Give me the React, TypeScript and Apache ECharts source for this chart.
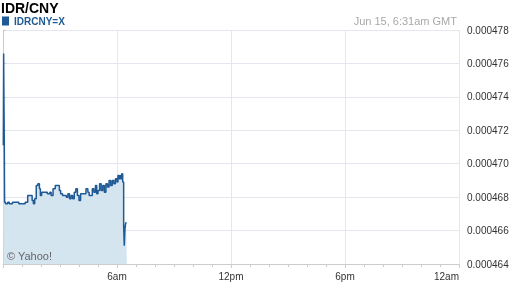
import React, { useEffect, useRef } from "react";
import * as echarts from "echarts";

// minutes after midnight (GMT), Jun 15
const minutes = [
  1, 2, 3, 4, 5, 8, 15, 20, 30, 40, 50, 55, 62, 70, 78, 88, 92, 96, 100, 105,
  110, 115, 118, 122, 130, 140, 148, 152, 158, 165, 172, 178, 182, 188, 195,
  200, 205, 210, 215, 220, 225, 230, 235, 240, 245, 250, 258, 262, 268, 272,
  278, 282, 287, 292, 296, 300, 305, 310, 315, 320, 325, 330, 335, 340, 345,
  350, 355, 360, 363, 366, 369, 372, 375, 378, 381, 383, 385, 387, 389, 391,
];
const rates = [
  0.0004711, 0.0004766, 0.0004738, 0.0004714, 0.0004677, 0.0004676, 0.0004677,
  0.0004676, 0.0004677, 0.0004677, 0.0004676, 0.0004676, 0.0004676, 0.0004677,
  0.0004681, 0.0004681, 0.0004678, 0.0004676, 0.0004679, 0.0004687, 0.0004688,
  0.0004685, 0.0004681, 0.0004683, 0.0004683, 0.0004682, 0.0004683, 0.0004681,
  0.0004685, 0.0004687, 0.0004687, 0.0004684, 0.0004682, 0.0004681, 0.0004681,
  0.000468, 0.0004682, 0.0004679, 0.0004681, 0.0004679, 0.0004683, 0.0004685,
  0.0004681, 0.0004678, 0.0004682, 0.0004682, 0.0004682, 0.0004685, 0.0004683,
  0.0004681, 0.0004681, 0.0004685, 0.0004683, 0.0004687, 0.0004682, 0.0004684,
  0.0004688, 0.0004684, 0.0004687, 0.0004683, 0.0004688, 0.0004686, 0.000469,
  0.0004687, 0.000469, 0.0004688, 0.0004691, 0.0004689, 0.0004693, 0.0004691,
  0.0004693, 0.0004691, 0.0004694, 0.0004689, 0.0004663, 0.0004651, 0.0004661,
  0.0004664, 0.0004665, 0.0004665,
];
const xTickLabels: Record<number, string> = {
  360: "6am",
  720: "12pm",
  1080: "6pm",
  1440: "12am",
};
const titleText = "IDR/CNY";
const seriesName = "IDRCNY=X";
const stampText = "Jun 15, 6:31am GMT";
const creditText = "© Yahoo!";

export default function App() {
  const ref = useRef<HTMLDivElement>(null);
  useEffect(() => {
    if (!ref.current) return;
    const chart = echarts.init(ref.current, undefined, { renderer: "svg" });
    const font = "Arial, 'Liberation Sans', sans-serif";
    chart.setOption({
      animation: false,
      textStyle: { fontFamily: font },
      title: {
        text: titleText,
        left: 1,
        top: 1,
        padding: 0,
        textStyle: { fontSize: 14, fontWeight: "bold", color: "#000", fontFamily: font },
      },
      legend: {
        left: 2,
        top: 16,
        padding: 0,
        icon: "rect",
        itemWidth: 7,
        itemHeight: 9,
        data: [seriesName],
        textStyle: { fontSize: 10, fontWeight: "bold", color: "#1f5a96", fontFamily: font },
      },
      graphic: [
        {
          type: "text",
          right: 55,
          top: 15,
          z: 100,
          style: { text: stampText, fill: "#a8a8a8", font: `11px ${font}` },
        },
        {
          type: "text",
          left: 7,
          top: 250,
          z: 100,
          style: { text: creditText, fill: "#666", font: `11px ${font}` },
        },
      ],
      grid: { left: 3, right: 53, top: 30, bottom: 24 },
      xAxis: {
        type: "value",
        min: 0,
        max: 1440,
        interval: 360,
        axisLine: { show: true, lineStyle: { color: "#ccc" } },
        axisTick: { show: true, length: 4, lineStyle: { color: "#ccc" } },
        minorTick: { show: true, splitNumber: 6, length: 3, lineStyle: { color: "#ccc" } },
        splitLine: { show: true, lineStyle: { color: "#e6e6ee" } },
        axisLabel: {
          color: "#333",
          fontSize: 10,
          margin: 7,
          alignMaxLabel: "right",
          formatter: (v: number) => xTickLabels[v] || "",
        },
      },
      yAxis: {
        type: "value",
        position: "right",
        min: 0.000464,
        max: 0.000478,
        interval: 0.000002,
        axisLine: { show: true, lineStyle: { color: "#ccc" } },
        axisTick: { show: true, length: 3, lineStyle: { color: "#ccc" } },
        splitLine: { show: true, lineStyle: { color: "#e6e6ee" } },
        axisLabel: {
          color: "#333",
          fontSize: 10,
          margin: 8,
          formatter: (v: number) => v.toFixed(6),
        },
      },
      series: [
        {
          name: seriesName,
          type: "line",
          step: "end",
          showSymbol: false,
          color: "#1f5a96",
          lineStyle: { width: 1.5, color: "#1f5a96" },
          areaStyle: { color: "#d5e5f0", opacity: 1, origin: "start" },
          data: minutes.map((m, i) => [m, rates[i]]),
        },
      ],
    });
    return () => chart.dispose();
  }, []);
  return (
    <div
      ref={ref}
      style={{ position: "fixed", left: 0, top: 0, width: 512, height: 288 }}
    />
  );
}
